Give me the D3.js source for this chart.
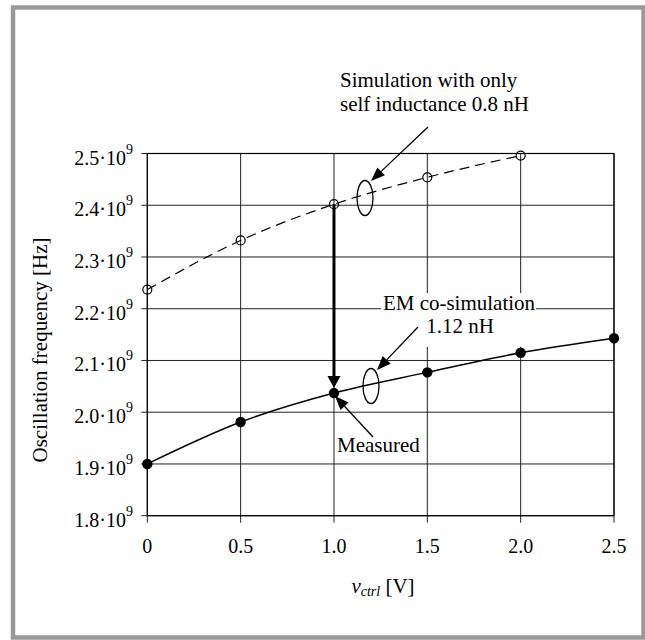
<!DOCTYPE html>
<html>
<head>
<meta charset="utf-8">
<script src="https://cdn.jsdelivr.net/npm/d3@7"></script>
<style>
  html, body { margin: 0; padding: 0; background: #fff; }
  svg { display: block; }
  text { font-family: "Liberation Serif", "Times New Roman", serif; fill: #000; }
</style>
</head>
<body>
<svg id="chart" width="645" height="640"></svg>
<script>
// ---- data ----
const vctrl = [0, 0.5, 1.0, 1.5, 2.0, 2.5];
const simSelfOnly = [2.237, 2.332, 2.402, 2.454, 2.496];          // x 0..2.0, ×10^9 Hz
const measured = [1.900, 1.981, 2.037, 2.077, 2.115, 2.143];       // x 0..2.5, ×10^9 Hz
const yTicks = [1.8, 1.9, 2.0, 2.1, 2.2, 2.3, 2.4, 2.5];
const yTickLabels = ["1.8", "1.9", "2.0", "2.1", "2.2", "2.3", "2.4", "2.5"];
const xTicks = [0, 0.5, 1.0, 1.5, 2.0, 2.5];
const xTickLabels = ["0", "0.5", "1.0", "1.5", "2.0", "2.5"];

const svg = d3.select("#chart");
const x = d3.scaleLinear().domain([0, 2.5]).range([147.3, 614]);
const y = d3.scaleLinear().domain([1.8, 2.5]).range([515.7, 153.5]);

// outer frame
svg.append("rect").attr("x", 13).attr("y", 7.5).attr("width", 630.5).attr("height", 630)
  .attr("fill", "none").attr("stroke", "#999").attr("stroke-width", 4.5);

// grid
const g = svg.append("g");
g.selectAll("line.hg").data(yTicks).join("line")
  .attr("x1", x(0) - 6).attr("x2", x(2.5))
  .attr("y1", d => y(d)).attr("y2", d => y(d))
  .attr("stroke", "#222").attr("stroke-width", 1);
g.selectAll("line.vg").data(xTicks).join("line")
  .attr("x1", d => x(d)).attr("x2", d => x(d))
  .attr("y1", y(2.5)).attr("y2", y(1.8) + 7)
  .attr("stroke", "#222").attr("stroke-width", 1);
g.append("rect").attr("x", x(0)).attr("y", y(2.5)).attr("width", x(2.5) - x(0)).attr("height", y(1.8) - y(2.5))
  .attr("fill", "none").attr("stroke", "#000").attr("stroke-width", 1.2);

// y tick labels
const yl = svg.append("g").selectAll("text").data(yTicks).join("text")
  .attr("x", 133).attr("y", d => y(d) + 11)
  .attr("text-anchor", "end").style("font-size", "20px");
yl.append("tspan").text((d, i) => yTickLabels[i] + "\u00B710");
yl.append("tspan").attr("dy", -11).style("font-size", "14px").text("9");

// x tick labels
svg.append("g").selectAll("text").data(xTicks).join("text")
  .attr("x", d => x(d)).attr("y", 553)
  .attr("text-anchor", "middle").style("font-size", "20px")
  .text((d, i) => xTickLabels[i]);

// axis titles
svg.append("text").attr("transform", "translate(47,350) rotate(-90)")
  .attr("text-anchor", "middle").style("font-size", "21px")
  .text("Oscillation frequency [Hz]");
const xt = svg.append("text").attr("x", 383).attr("y", 593).attr("text-anchor", "middle").style("font-size", "21px");
xt.append("tspan").style("font-style", "italic").text("v");
xt.append("tspan").style("font-style", "italic").style("font-size", "14px").attr("dy", 3).text("ctrl");
xt.append("tspan").attr("dy", -3).text(" [V]");

// white box behind EM label
svg.append("rect").attr("x", 381).attr("y", 293).attr("width", 155).attr("height", 54).attr("fill", "#fff");
svg.append("text").attr("x", 459).attr("y", 310).attr("text-anchor", "middle").style("font-size", "21px").text("EM co-simulation");
svg.append("text").attr("x", 460).attr("y", 333).attr("text-anchor", "middle").style("font-size", "21px").text("1.12 nH");

// top annotation
svg.append("text").attr("x", 340).attr("y", 87).style("font-size", "21px").text("Simulation with only");
svg.append("text").attr("x", 340).attr("y", 111).style("font-size", "21px").text("self inductance 0.8 nH");
svg.append("text").attr("x", 337).attr("y", 452).style("font-size", "21px").text("Measured");

// curves
const simPts = simSelfOnly.map((v, i) => [vctrl[i], v]);
const measPts = measured.map((v, i) => [vctrl[i], v]);
const line = d3.line().x(d => x(d[0])).y(d => y(d[1])).curve(d3.curveMonotoneX);
svg.append("path").attr("d", line(simPts)).attr("fill", "none").attr("stroke", "#000")
  .attr("stroke-width", 1.2).attr("stroke-dasharray", "10,6");
svg.append("path").attr("d", line(measPts)).attr("fill", "none").attr("stroke", "#000").attr("stroke-width", 1.5);

svg.append("g").selectAll("circle").data(simPts).join("circle")
  .attr("cx", d => x(d[0])).attr("cy", d => y(d[1])).attr("r", 4.5)
  .attr("fill", "none").attr("stroke", "#000").attr("stroke-width", 1.2);
svg.append("g").selectAll("circle").data(measPts).join("circle")
  .attr("cx", d => x(d[0])).attr("cy", d => y(d[1])).attr("r", 5.2)
  .attr("fill", "#000");

// ellipses
svg.append("ellipse").attr("cx", 365).attr("cy", 198).attr("rx", 8).attr("ry", 17.5)
  .attr("fill", "none").attr("stroke", "#000").attr("stroke-width", 1.3);
svg.append("ellipse").attr("cx", 371).attr("cy", 386).attr("rx", 8).attr("ry", 17.5)
  .attr("fill", "none").attr("stroke", "#000").attr("stroke-width", 1.3);

// arrows
function arrow(x1, y1, x2, y2, w, headLen, headW) {
  const ang = Math.atan2(y2 - y1, x2 - x1);
  const bx = x2 - headLen * Math.cos(ang), by = y2 - headLen * Math.sin(ang);
  svg.append("line").attr("x1", x1).attr("y1", y1).attr("x2", bx).attr("y2", by)
    .attr("stroke", "#000").attr("stroke-width", w);
  const px = -Math.sin(ang) * headW / 2, py = Math.cos(ang) * headW / 2;
  svg.append("path").attr("d", `M${x2},${y2}L${bx + px},${by + py}L${bx - px},${by - py}Z`).attr("fill", "#000");
}
arrow(428, 127, 371, 181, 1.3, 14, 11);
arrow(418, 327, 377, 370, 1.3, 14, 11);
arrow(373, 437, 335, 396, 1.3, 14, 11);
arrow(x(1.0), y(simSelfOnly[2]), x(1.0), 388, 3, 12, 13);
</script>
</body>
</html>
